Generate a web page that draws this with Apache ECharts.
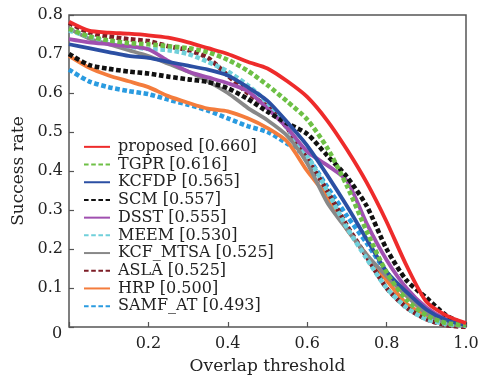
<!DOCTYPE html>
<html>
<head>
<meta charset="utf-8">
<script src="https://cdn.jsdelivr.net/npm/echarts@6/dist/echarts.min.js"></script>
<style>
  html, body { margin: 0; padding: 0; background: #fff; }
  #chart { width: 489px; height: 385px; }
</style>
</head>
<body>
<div id="chart"></div>
<script>
// overlap thresholds
const thresholds = [0, 0.05, 0.1, 0.15, 0.2, 0.25, 0.3, 0.35, 0.4, 0.45, 0.5,
  0.55, 0.6, 0.65, 0.7, 0.75, 0.8, 0.85, 0.9, 0.95, 1.0];

const proposed = [0.783, 0.760, 0.755, 0.752, 0.748, 0.742, 0.730, 0.715, 0.700, 0.680, 0.663,
  0.630, 0.590, 0.530, 0.455, 0.370, 0.270, 0.158, 0.065, 0.030, 0.010];
const tgpr = [0.765, 0.745, 0.735, 0.728, 0.725, 0.720, 0.715, 0.705, 0.685, 0.657, 0.620,
  0.578, 0.532, 0.460, 0.362, 0.245, 0.140, 0.070, 0.030, 0.010, 0.005];
const kcfdp = [0.725, 0.715, 0.705, 0.695, 0.690, 0.680, 0.670, 0.660, 0.645, 0.615, 0.580,
  0.525, 0.465, 0.390, 0.310, 0.225, 0.142, 0.090, 0.045, 0.018, 0.005];
const scm = [0.700, 0.672, 0.662, 0.655, 0.650, 0.642, 0.635, 0.628, 0.612, 0.585, 0.552,
  0.522, 0.495, 0.440, 0.385, 0.310, 0.200, 0.120, 0.075, 0.030, 0.005];
const dsst = [0.738, 0.730, 0.725, 0.720, 0.712, 0.682, 0.655, 0.640, 0.625, 0.605, 0.560,
  0.510, 0.450, 0.415, 0.375, 0.265, 0.172, 0.100, 0.050, 0.020, 0.005];
const meem = [0.760, 0.745, 0.730, 0.720, 0.713, 0.710, 0.700, 0.680, 0.655, 0.620, 0.575,
  0.510, 0.440, 0.350, 0.255, 0.175, 0.100, 0.050, 0.020, 0.008, 0.003];
const kcfMtsa = [0.765, 0.740, 0.725, 0.710, 0.695, 0.675, 0.655, 0.630, 0.600, 0.562, 0.530,
  0.490, 0.420, 0.320, 0.250, 0.185, 0.130, 0.080, 0.035, 0.010, 0.003];
const asla = [0.780, 0.755, 0.745, 0.738, 0.733, 0.720, 0.710, 0.690, 0.645, 0.600, 0.565,
  0.510, 0.430, 0.350, 0.260, 0.180, 0.100, 0.050, 0.020, 0.005, 0.000];
const hrp = [0.695, 0.665, 0.645, 0.630, 0.615, 0.592, 0.575, 0.560, 0.553, 0.535, 0.510,
  0.475, 0.400, 0.335, 0.250, 0.185, 0.120, 0.060, 0.030, 0.010, 0.000];
const samfAt = [0.660, 0.630, 0.615, 0.605, 0.597, 0.583, 0.570, 0.555, 0.535, 0.515, 0.500,
  0.470, 0.435, 0.360, 0.285, 0.215, 0.140, 0.085, 0.040, 0.015, 0.005];

const names = ['proposed [0.660]', 'TGPR [0.616]', 'KCFDP [0.565]', 'SCM [0.557]', 'DSST [0.555]',
  'MEEM [0.530]', 'KCF_MTSA [0.525]', 'ASLA [0.525]', 'HRP [0.500]', 'SAMF_AT [0.493]'];
const values = [proposed, tgpr, kcfdp, scm, dsst, meem, kcfMtsa, asla, hrp, samfAt];
const colors = ['#ee2b2b', '#6ec046', '#2b4fa3', '#111111', '#a050b0',
  '#70d0da', '#888888', '#7c1d26', '#f47c3c', '#2a9be0'];
const dotted = [false, true, false, true, false, true, false, true, false, true];

const yTicks = [0, 0.1, 0.2, 0.3, 0.4, 0.5, 0.6, 0.7, 0.8];
const xTicks = [0, 0.2, 0.4, 0.6, 0.8, 1.0];

const font = 'DejaVu Serif';
const textColor = '#222';

const chart = echarts.init(document.getElementById('chart'), null, { renderer: 'canvas' });

const series = values.map((vals, i) => ({
  name: names[i],
  type: 'line',
  data: thresholds.map((t, k) => [t, vals[k]]),
  symbol: 'none',
  smooth: 0.25,
  z: 20 - i,
  lineStyle: {
    color: colors[i],
    width: dotted[i] ? 4.6 : 3.8,
    type: dotted[i] ? [4.6, 2.6] : 'solid',
    cap: 'butt'
  },
  itemStyle: { color: colors[i] }
}));

const option = {
  backgroundColor: '#fff',
  animation: false,
  grid: {
    left: 69,
    top: 15,
    right: 23,
    bottom: 58,
    show: true,
    borderColor: '#555',
    borderWidth: 1.5,
    backgroundColor: 'transparent'
  },
  xAxis: {
    type: 'value',
    min: xTicks[0],
    max: xTicks[xTicks.length - 1],
    interval: 0.2,
    name: 'Overlap threshold',
    nameLocation: 'middle',
    nameGap: 31,
    nameTextStyle: { fontFamily: font, fontSize: 17, color: textColor },
    axisLine: { show: false },
    axisTick: { show: true, inside: true, length: 5, lineStyle: { color: '#555', width: 1.2 } },
    splitLine: { show: false },
    axisLabel: {
      fontFamily: font, fontSize: 16, color: textColor, margin: 9,
      formatter: v => (v === 0 ? '' : v.toFixed(1))
    }
  },
  yAxis: {
    type: 'value',
    min: yTicks[0],
    max: yTicks[yTicks.length - 1],
    interval: 0.1,
    name: 'Success rate',
    nameLocation: 'middle',
    nameGap: 38,
    nameTextStyle: { fontFamily: font, fontSize: 17, color: textColor },
    axisLine: { show: false },
    axisTick: { show: true, inside: true, length: 5, lineStyle: { color: '#555', width: 1.2 } },
    splitLine: { show: false },
    axisLabel: {
      fontFamily: font, fontSize: 16, color: textColor, margin: 6,
      formatter: v => (v === 0 ? '' : v.toFixed(1))
    }
  },
  graphic: [{
    type: 'text',
    left: 52,
    top: 326,
    style: { text: '0', font: '16px "DejaVu Serif"', fill: textColor }
  }],
  legend: {
    orient: 'vertical',
    left: 83,
    top: 138,
    itemWidth: 26,
    itemHeight: 6,
    itemGap: 0,
    padding: 0,
    data: names,
    itemStyle: { color: 'rgba(0,0,0,0)', borderWidth: 0 },
    textStyle: { fontFamily: font, fontSize: 16, color: textColor, lineHeight: 17.7, padding: [0, 0, 0, 3] }
  },
  series
};

chart.setOption(option);
</script>
</body>
</html>
